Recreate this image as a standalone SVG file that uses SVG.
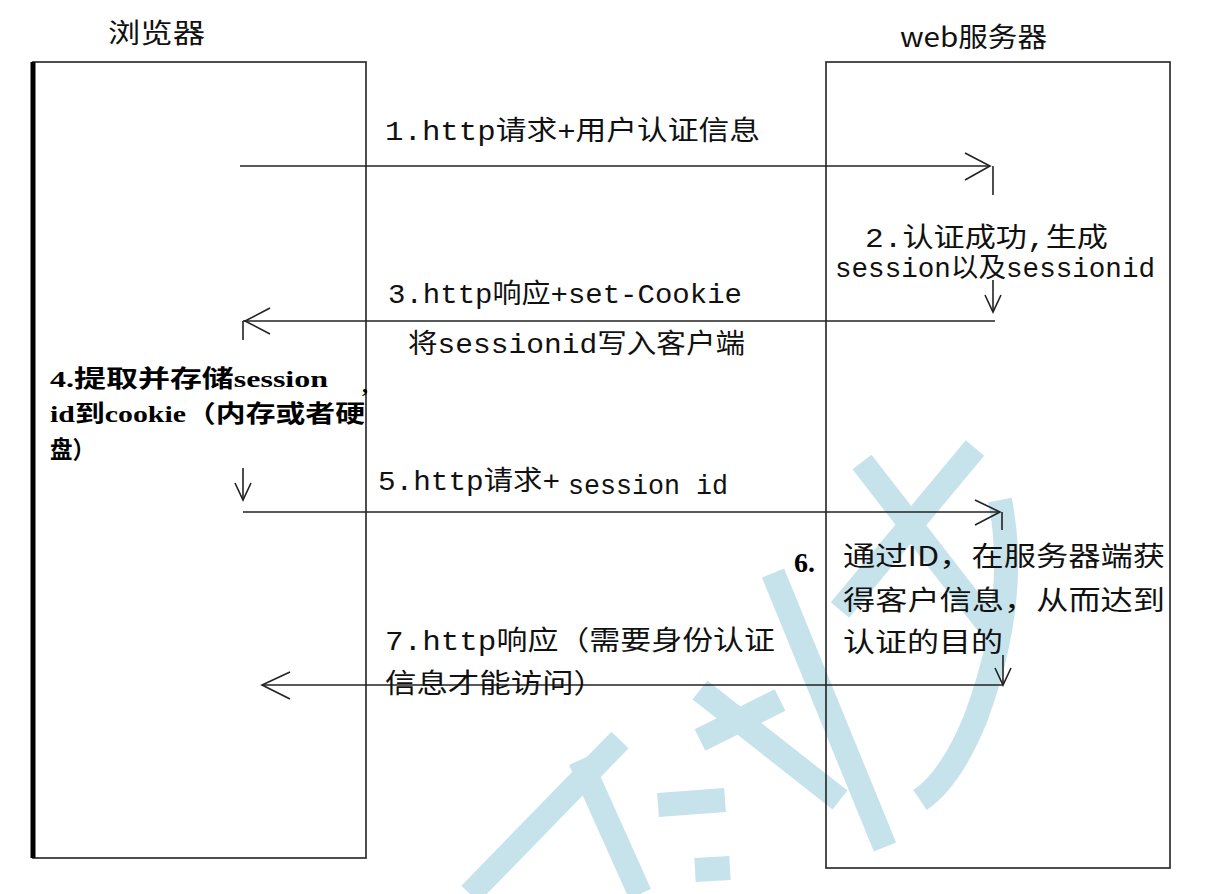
<svg xmlns="http://www.w3.org/2000/svg" width="1205" height="894" viewBox="0 0 1205 894">
<style>
.t{font-family:"Liberation Mono","Noto Sans CJK SC",monospace;font-size:27px;fill:#111}
.h{font-family:"Noto Sans CJK SC",sans-serif;font-size:27px;fill:#111}
.b{font-family:"Liberation Serif","Noto Sans CJK SC",serif;font-size:24px;font-weight:bold;fill:#000}
.b6{font-family:"Liberation Serif",serif;font-size:28px;font-weight:bold;fill:#000}
.ln{stroke:#222;stroke-width:1.6;fill:none}
.wm{stroke:#c6e3ec;stroke-width:24;fill:none;stroke-linecap:butt}
</style>
<rect width="1205" height="894" fill="#fff"/>
<g id="watermark">
<path class="wm" d="M975,448 L840,610"/>
<path class="wm" d="M862,462 L1000,640"/>
<path class="wm" d="M773,573 L885,847"/>
<path class="wm" d="M1000,500 Q1020,600 975,720 Q950,780 920,800"/>
<path class="wm" d="M700,690 L840,800"/>
<path class="wm" d="M658,805 L725,800"/>
<path class="wm" d="M695,870 L730,868"/>
<path class="wm" d="M620,740 L470,894"/>
<path class="wm" d="M580,760 L640,894"/>
<path class="wm" d="M700,740 L780,700"/>
</g>
<g id="browser">
<rect x="33" y="62" width="333" height="796" class="ln"/>
<line x1="33" y1="62" x2="33" y2="858" stroke="#000" stroke-width="5"/>
<text x="108" y="43" class="h" textLength="97" lengthAdjust="spacingAndGlyphs">浏览器</text>
</g>
<g id="server">
<rect x="826" y="62" width="344" height="806" class="ln"/>
<text x="900" y="47" class="h" textLength="147" lengthAdjust="spacingAndGlyphs">web服务器</text>
</g>
<g id="connectors" class="ln">
<line x1="240" y1="166" x2="990" y2="166"/>
<path d="M965,153 L990,166 L965,180"/>
<line x1="993" y1="166" x2="993" y2="195"/>
<line x1="993" y1="280" x2="993" y2="312"/>
<path d="M985,295 L993,312 L1001,295"/>
<line x1="243" y1="321" x2="995" y2="321"/>
<path d="M270,308 L245,321 L270,334"/>
<line x1="243" y1="321" x2="243" y2="340"/>
<line x1="243" y1="468" x2="243" y2="500"/>
<path d="M235,483 L243,500 L251,483"/>
<line x1="243" y1="512" x2="1000" y2="512"/>
<path d="M975,500 L1000,512 L975,525"/>
<line x1="1002" y1="512" x2="1002" y2="530"/>
<line x1="1003" y1="655" x2="1003" y2="685"/>
<path d="M995,668 L1003,685 L1011,668"/>
<line x1="262" y1="685" x2="1003" y2="685"/>
<path d="M290,672 L262,685 L290,699"/>
</g>
<g id="labels">
<text x="385" y="140" class="t" textLength="375" lengthAdjust="spacingAndGlyphs">1.http请求+用户认证信息</text>
<text x="865" y="247" class="t" textLength="243" lengthAdjust="spacingAndGlyphs">2.认证成功,生成</text>
<text x="835" y="277" class="t" textLength="320" lengthAdjust="spacingAndGlyphs">session以及sessionid</text>
<text x="388" y="303" class="t" textLength="354" lengthAdjust="spacingAndGlyphs">3.http响应+set-Cookie</text>
<text x="408" y="353" class="t" textLength="337" lengthAdjust="spacingAndGlyphs">将sessionid写入客户端</text>
<text x="50" y="387" class="b" textLength="278" lengthAdjust="spacingAndGlyphs">4.提取并存储session</text>
<text x="50" y="422" class="b" textLength="315" lengthAdjust="spacingAndGlyphs">id到cookie（内存或者硬</text>
<text x="50" y="458" class="b" textLength="45" lengthAdjust="spacingAndGlyphs">盘）</text>
<text x="362" y="392" class="b">,</text>
<text x="378" y="490" class="t" textLength="182" lengthAdjust="spacingAndGlyphs">5.http请求+</text>
<text x="568" y="494" class="t" textLength="160" lengthAdjust="spacingAndGlyphs">session id</text>
<text x="794" y="572" class="b6">6.</text>
<text x="843" y="566" class="h" textLength="322" lengthAdjust="spacingAndGlyphs">通过ID，在服务器端获</text>
<text x="843" y="610" class="h" textLength="322" lengthAdjust="spacingAndGlyphs">得客户信息，从而达到</text>
<text x="843" y="652" class="h" textLength="160" lengthAdjust="spacingAndGlyphs">认证的目的</text>
<text x="385" y="650" class="t" textLength="390" lengthAdjust="spacingAndGlyphs">7.http响应（需要身份认证</text>
<text x="385" y="693" class="t" textLength="220" lengthAdjust="spacingAndGlyphs">信息才能访问）</text>
</g>
</svg>
